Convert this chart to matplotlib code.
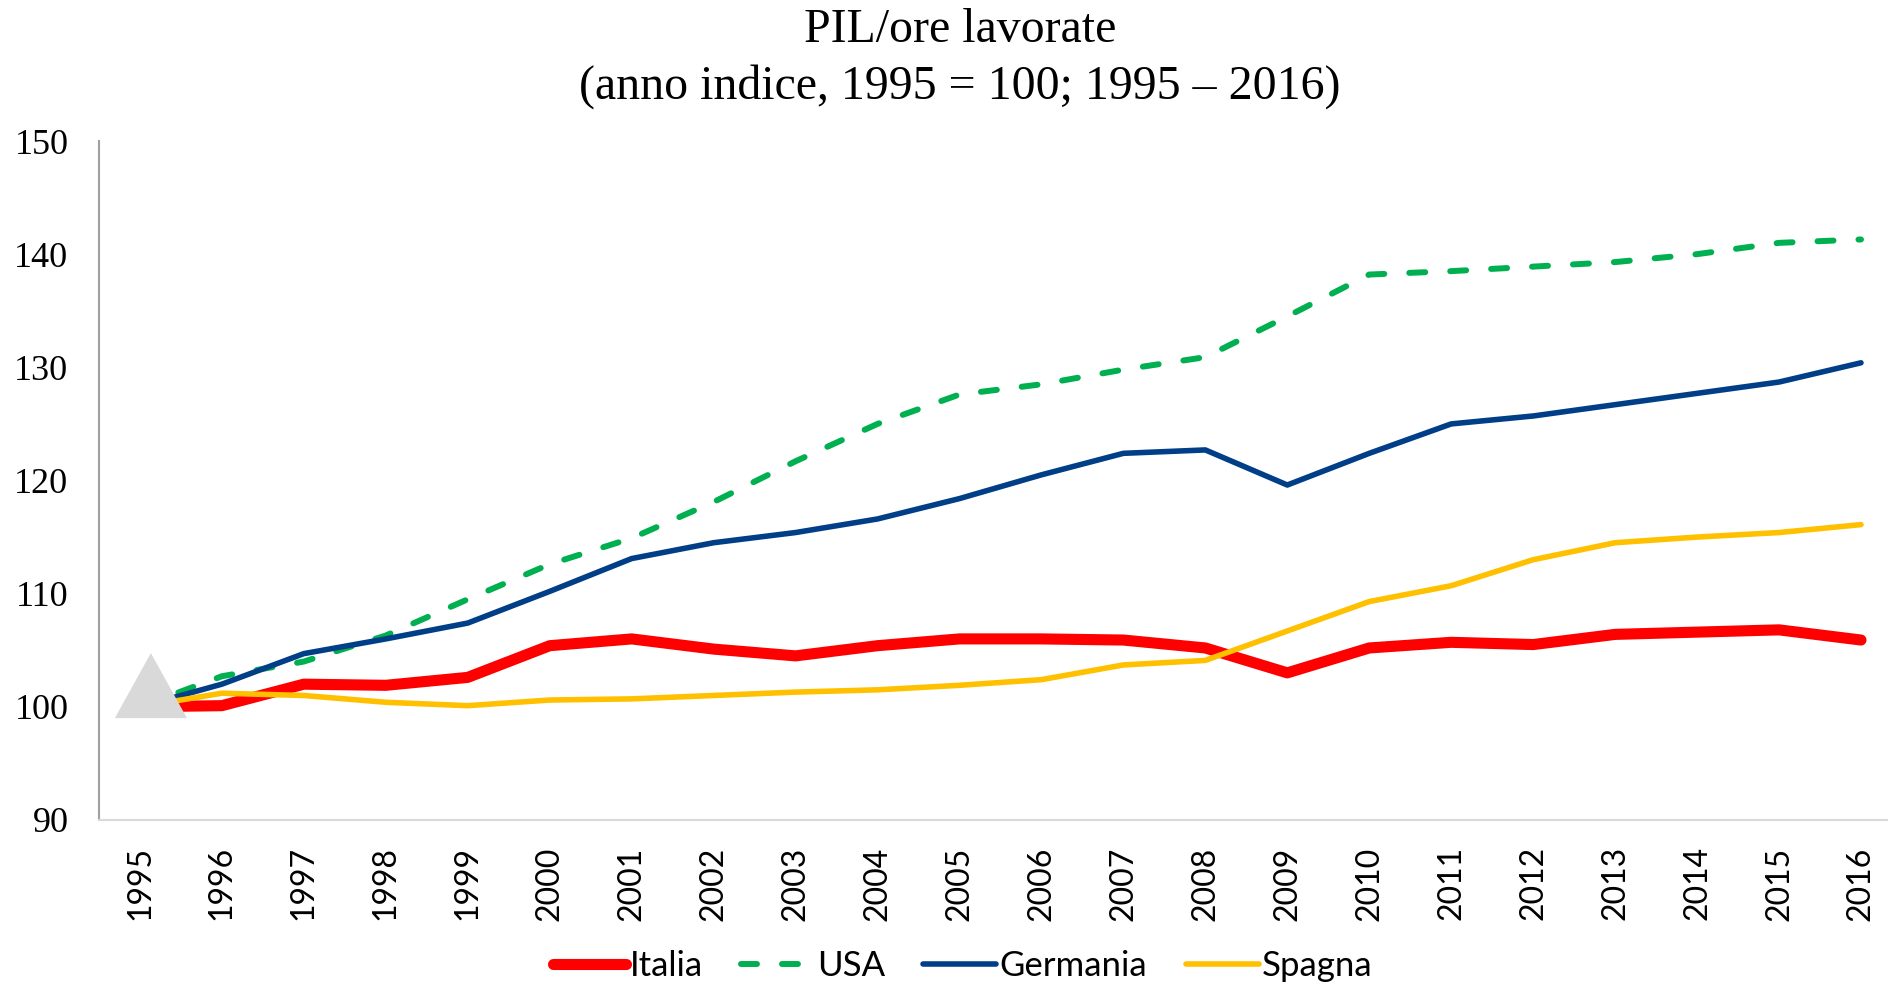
import matplotlib
matplotlib.use("Agg")
import matplotlib.pyplot as plt
from matplotlib.patches import Polygon
import numpy as np

# dati (indice 1995 = 100)
anni = [str(a) for a in range(1995, 2017)]
italia = [100, 100.1, 102.0, 101.9, 102.6, 105.4, 106.0, 105.1, 104.5, 105.4, 106.0,
          106.0, 105.9, 105.2, 103.0, 105.2, 105.7, 105.5, 106.4, 106.6, 106.8, 105.9]
usa = [100, 102.7, 104.0, 106.3, 109.5, 112.6, 114.9, 118.1, 121.7, 125.0, 127.6,
       128.5, 129.8, 130.9, 134.5, 138.2, 138.5, 138.9, 139.3, 140.0, 141.0, 141.3]
germania = [100, 102.0, 104.7, 106.0, 107.4, 110.2, 113.1, 114.5, 115.4, 116.6, 118.4,
            120.5, 122.4, 122.7, 119.6, 122.4, 125.0, 125.7, 126.7, 127.7, 128.7, 130.4]
spagna = [100, 101.2, 101.0, 100.4, 100.1, 100.6, 100.7, 101.0, 101.3, 101.5, 101.9,
          102.4, 103.7, 104.1, 106.7, 109.3, 110.7, 113.0, 114.5, 115.0, 115.4, 116.1]
yticks = [90, 100, 110, 120, 130, 140, 150]

plt.rcParams['lines.scale_dashes'] = False

fig = plt.figure(figsize=(18.88, 9.84), dpi=100)
ax = fig.add_axes([0.0524, 0.1667, 0.955, 0.69])

x = np.arange(len(anni))
ax.plot(x, italia, color='#FF0000', lw=8, solid_capstyle='round', solid_joinstyle='round', label='Italia')
ax.plot(x, usa, color='#00B050', lw=4.3, dashes=(11.5, 18), dash_capstyle='round', label='USA')
ax.plot(x, germania, color='#003F87', lw=4, solid_capstyle='round', label='Germania')
ax.plot(x, spagna, color='#FFC000', lw=4, solid_capstyle='round', label='Spagna')

# triangolo grigio all'inizio
cx, half_w, base, top = 0.134, 0.44, 99.0, 104.75
tri = Polygon([(cx - half_w, base), (cx + half_w, base), (cx, top)], closed=True,
              facecolor='#D9D9D9', edgecolor='none', zorder=5)
ax.add_patch(tri)

ax.set_xlim(-0.5, len(anni) - 0.5)
ax.set_ylim(90, 150)
ax.set_xticks(x)
ax.set_xticklabels(anni, rotation=90, fontfamily='Lato', fontsize=23)
ax.set_yticks(yticks)
ax.set_yticklabels([str(v) for v in yticks], fontfamily='Liberation Serif', fontsize=26)
ax.tick_params(axis='x', length=0, pad=19)
ax.tick_params(axis='y', length=0, pad=22)

for s in ['top', 'right']:
    ax.spines[s].set_visible(False)
ax.spines['left'].set_color('#A0A0A0')
ax.spines['left'].set_linewidth(1.5)
ax.spines['bottom'].set_color('#D9D9D9')
ax.spines['bottom'].set_linewidth(1.5)

fig.text(0.5085, 0.941, "PIL/ore lavorate\n(anno indice, 1995 = 100; 1995 \u2013 2016)",
         ha='center', va='center', fontfamily='Liberation Serif', fontsize=34.5, linespacing=1.35)

fig.legend(loc='center', bbox_to_anchor=(0.51, 0.018), ncol=4, frameon=False,
           prop={'family': 'Lato', 'size': 25}, handlelength=2.1, handletextpad=0.1,
           columnspacing=1.1, borderaxespad=0)

fig.savefig('out.png', dpi=100)
